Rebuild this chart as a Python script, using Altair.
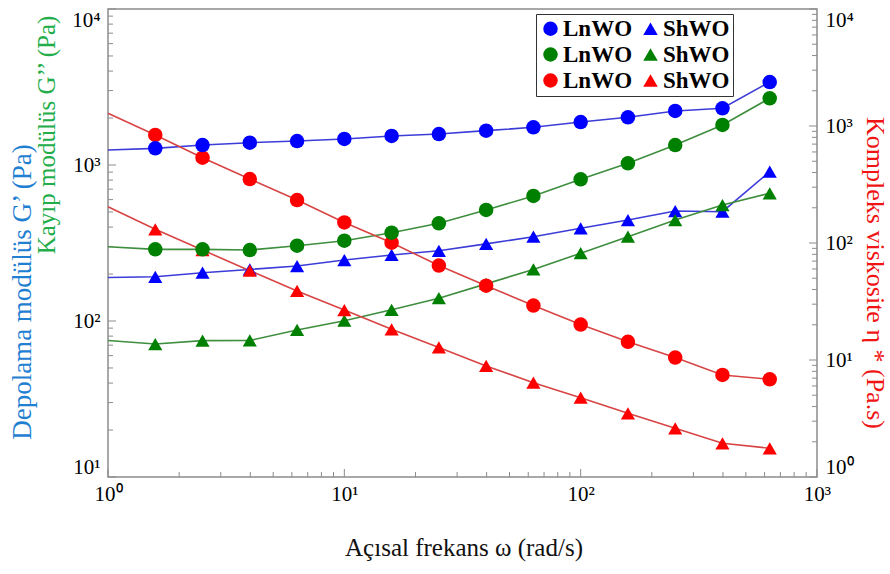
import altair as alt
import pandas as pd

# Angular frequency (rad/s) of each measured point
omega = [1.585, 2.512, 3.981, 6.310, 10.0, 15.85, 25.12, 39.81, 63.10, 100.0, 158.5, 251.2, 398.1, 631.0]

# Storage modulus G' (Pa)
g1_lnwo = [1279, 1343, 1390, 1425, 1468, 1535, 1580, 1660, 1745, 1886, 2023, 2220, 2310, 3404]
g1_shwo = [192, 204, 214, 225, 246, 265, 282, 312, 347, 393, 444, 507, 502, 906]
# Loss modulus G'' (Pa)
g2_lnwo = [288, 288, 285, 304, 327, 368, 423, 515, 633, 809, 1026, 1343, 1805, 2677]
g2_shwo = [71.2, 74.8, 75.0, 87.6, 100.5, 118, 140, 173, 214, 272, 347, 444, 554, 659]
# Complex viscosity eta* (Pa.s)
eta_lnwo = [838, 536, 352, 233, 150, 100.6, 64.2, 43.2, 29.2, 20.1, 14.3, 10.5, 7.45, 6.84]
eta_shwo = [131, 87.1, 58.0, 38.9, 26.7, 18.3, 12.8, 8.89, 6.40, 4.76, 3.50, 2.61, 1.94, 1.76]

# Fitted curves start at the left edge of the frequency range
fit_omega0 = 1.0
fit_start_lnwo = [1248, 299, 1284]   # G', G'', eta*
fit_start_shwo = [190, 75, 204]

# Legend order: LnWO column first, then ShWO column
keys = ["LnWO G′", "LnWO G″", "LnWO η*", "ShWO G′", "ShWO G″", "ShWO η*"]
series = [g1_lnwo, g2_lnwo, eta_lnwo, g1_shwo, g2_shwo, eta_shwo]
fit_start = fit_start_lnwo + fit_start_shwo
marker_colors = ["#0000ff", "#008000", "#ff0000", "#0000ff", "#008000", "#ff0000"]
shapes = ["circle", "circle", "circle", "triangle-up", "triangle-up", "triangle-up"]
LINE_BLUE, LINE_GREEN, LINE_RED = "#3c3cd8", "#3e8e3e", "#d84444"

left_ticks_minor = [20, 30, 40, 50, 60, 70, 80, 90, 200, 300, 400, 500, 600, 700, 800, 900,
                    2000, 3000, 4000, 5000, 6000, 7000, 8000, 9000]
left_ticks_major = [10, 100, 1000, 10000]
right_ticks_minor = [2, 3, 4, 5, 6, 7, 8, 9, 20, 30, 40, 50, 60, 70, 80, 90,
                     200, 300, 400, 500, 600, 700, 800, 900, 2000, 3000, 4000, 5000, 6000, 7000, 8000, 9000]
right_ticks_major = [1, 10, 100, 1000, 10000]
x_ticks_minor = [2, 3, 4, 5, 6, 7, 8, 9, 20, 30, 40, 50, 60, 70, 80, 90, 200, 300, 400, 500, 600, 700, 800, 900]
x_ticks_major = [1, 10, 100, 1000]

W, H = 709, 468
LEFT_DOM = [10, 10000]
RIGHT_DOM = [1, 10000]
FONT = "Liberation Serif"
FRAME = "#8c8c8c"

pts = pd.DataFrame([
    {"omega": w, "val": v, "key": k}
    for k, s in zip(keys, series) for w, v in zip(omega, s)
])
fit = pd.DataFrame(
    [{"omega": fit_omega0, "val": v0, "key": k} for k, v0 in zip(keys, fit_start)]
    + pts.to_dict("records")
)

pow_label = "'10' + ['⁰','¹','²','³','⁴'][round(log(datum.value) / LN10)]"

x_enc = alt.X(
    "omega:Q",
    scale=alt.Scale(type="log", domain=[1, 1000]),
    axis=alt.Axis(values=x_ticks_major, labelExpr=pow_label, ticks=False, domain=False, grid=False,
                  title=None, labelFont=FONT, labelFontSize=21, labelColor="black", labelPadding=6,
                  labelFlush=False),
)


def y_enc(domain, axis=None):
    return alt.Y("val:Q", scale=alt.Scale(type="log", domain=domain), axis=axis)


left_axis = alt.Axis(orient="left", values=left_ticks_major, labelExpr=pow_label, ticks=False,
                     domain=False, grid=False, title=None, labelFont=FONT, labelFontSize=21,
                     labelColor="black", labelPadding=8, labelFlush=True)
right_axis = alt.Axis(orient="right", values=right_ticks_major, labelExpr=pow_label, ticks=False,
                      domain=False, grid=False, title=None, labelFont=FONT, labelFontSize=21,
                      labelColor="black", labelPadding=8, labelFlush=True)

legend = alt.Legend(
    orient="none", legendX=428, legendY=5, columns=2, title=None,
    labelExpr="slice(datum.label, 0, 4)", labelFont=FONT, labelFontSize=23,
    labelFontWeight="bold", labelColor="black", labelLimit=300, labelOffset=1,
    symbolSize=210, symbolOpacity=1,
    strokeColor="#333333", fillColor="white", padding=3, rowPadding=2, columnPadding=6,
)
fill_enc = alt.Fill("key:N", scale=alt.Scale(domain=keys, range=marker_colors), legend=legend)
shape_enc = alt.Shape("key:N", scale=alt.Scale(domain=keys, range=shapes), legend=legend)


def sel(df, ks):
    return df[df["key"].isin(ks)]


def curves(ks, dom, color, axis=None):
    return alt.Chart(sel(fit, ks)).mark_line(strokeWidth=1.6, color=color).encode(
        x=x_enc, y=y_enc(dom, axis), detail="key:N")


lines = [
    curves(["LnWO G′", "ShWO G′"], LEFT_DOM, LINE_BLUE, left_axis),
    curves(["LnWO G″", "ShWO G″"], LEFT_DOM, LINE_GREEN),
    curves(["LnWO η*", "ShWO η*"], RIGHT_DOM, LINE_RED, right_axis),
]


def points(df, dom, size):
    return alt.Chart(df).mark_point(filled=True, opacity=1, size=size, strokeWidth=0).encode(
        x=x_enc, y=y_enc(dom), fill=fill_enc, shape=shape_enc)


marks = [
    points(sel(pts, ["ShWO G′", "ShWO G″"]), LEFT_DOM, 200),
    points(sel(pts, ["ShWO η*"]), RIGHT_DOM, 200),
    points(sel(pts, ["LnWO η*"]), RIGHT_DOM, 210),
    points(sel(pts, ["LnWO G″", "LnWO G′"]).iloc[::-1], LEFT_DOM, 210),
]


def yticks(vals, dom, x0, x1):
    return alt.Chart(pd.DataFrame({"val": vals})).mark_rule(color=FRAME, strokeWidth=1).encode(
        y=y_enc(dom), x=alt.value(x0), x2=alt.value(x1))


def xticks(vals, y0, y1):
    return alt.Chart(pd.DataFrame({"omega": vals})).mark_rule(color=FRAME, strokeWidth=1).encode(
        x=x_enc, y=alt.value(y0), y2=alt.value(y1))


ticks = [
    yticks(left_ticks_minor, LEFT_DOM, 0, 5),
    yticks(left_ticks_major, LEFT_DOM, 0, 8),
    yticks(right_ticks_minor, RIGHT_DOM, W - 5, W),
    yticks(right_ticks_major, RIGHT_DOM, W - 8, W),
    xticks(x_ticks_minor, H - 5, H),
    xticks(x_ticks_major, H - 8, H),
]


def title_text(text, x, y, angle, color, size):
    return alt.Chart(pd.DataFrame({"t": [text]})).mark_text(
        font=FONT, fontSize=size, color=color, angle=angle, align="center", baseline="middle"
    ).encode(text="t:N", x=alt.value(x), y=alt.value(y))


titles = [
    title_text("Depolama modülüs G’ (Pa)", -85, 283, 270, "#1f80d2", 27),
    title_text("Kayıp modülüs G’’ (Pa)", -61, 126, 270, "#22ad4a", 25),
    title_text("Kompleks viskosite η *  (Pa.s)", 767, 264, 90, "#f01414", 26),
    title_text("Açısal frekans ω (rad/s)", 356, 539, 0, "#111111", 25),
]

chart = alt.layer(*ticks, *lines, *marks, *titles).resolve_scale(y="independent").properties(
    width=W, height=H,
    padding={"left": 108, "top": 9, "right": 73, "bottom": 97},
    autosize=alt.AutoSizeParams(type="none"),
    background="white",
).configure_view(stroke=FRAME, strokeWidth=1.5)

chart.save("out.html", embed_options={"renderer": "svg", "actions": False})
